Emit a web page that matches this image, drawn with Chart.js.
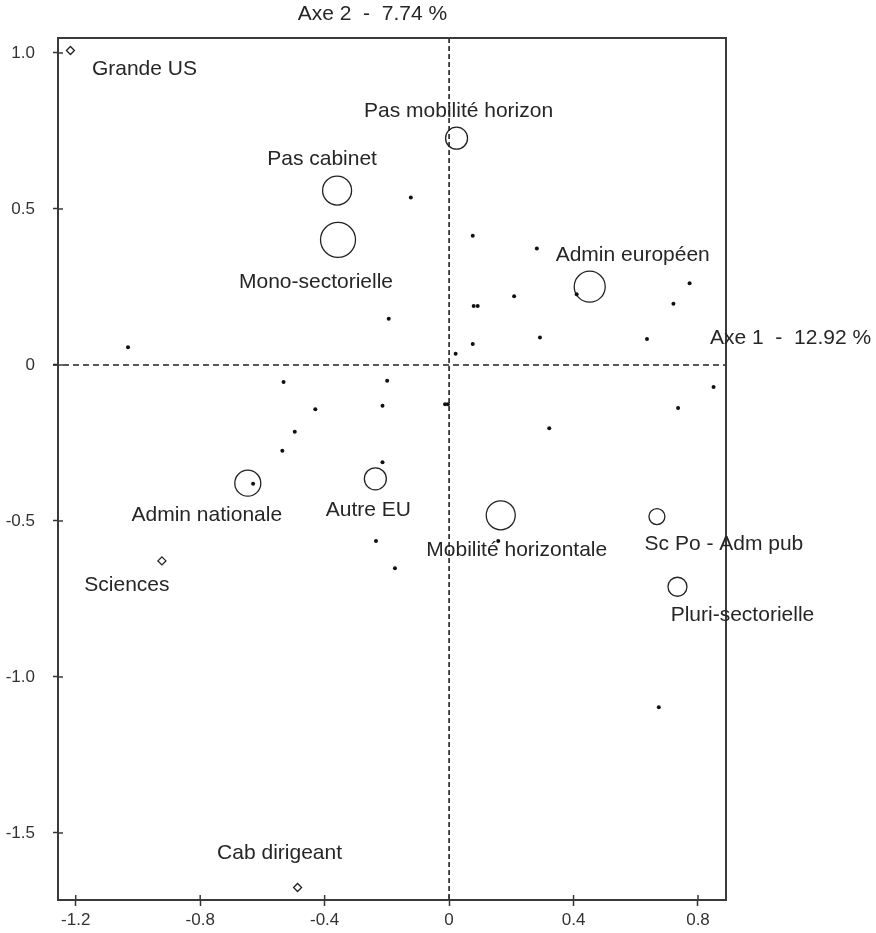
<!DOCTYPE html>
<html>
<head>
<meta charset="utf-8">
<script src="https://cdn.jsdelivr.net/npm/chart.js@4/dist/chart.umd.min.js"></script>
<style>
  html, body { margin: 0; padding: 0; background: #fff; }
  canvas { display: block; }
</style>
</head>
<body>
<canvas id="acm" width="876" height="933"></canvas>
<script>
// Active modalities (circles), weight shown by circle size
var circleNames = ['Pas mobilité horizon', 'Pas cabinet', 'Mono-sectorielle', 'Admin européen',
    'Admin nationale', 'Autre EU', 'Mobilité horizontale', 'Sc Po - Adm pub', 'Pluri-sectorielle'];
var circleX = [0.024, -0.360, -0.357, 0.452, -0.647, -0.237, 0.166, 0.668, 0.734];
var circleY = [0.727, 0.559, 0.401, 0.251, -0.379, -0.365, -0.482, -0.486, -0.711];
var circleRadius = [11, 14.5, 17.5, 15.5, 13, 11, 14.5, 8, 9.5];

// Rare modalities (diamonds)
var diamondNames = ['Grande US', 'Sciences', 'Cab dirigeant'];
var diamondX = [-1.217, -0.923, -0.487];
var diamondY = [1.008, -0.628, -1.675];

// Individuals (small dots)
var dotX = [-0.123, 0.076, 0.282, 0.209, 0.079, 0.092, -0.194, 0.292, 0.076, 0.021,
    -0.199, -0.430, -0.214, -0.013, -0.004, 0.322, -0.214, -1.032, -0.532, -0.496,
    -0.536, 0.773, 0.721, 0.636, 0.850, 0.736, -0.630, 0.158, -0.235, -0.174, 0.674, 0.410];
var dotY = [0.537, 0.414, 0.373, 0.220, 0.189, 0.189, 0.148, 0.088, 0.067, 0.036,
    -0.051, -0.142, -0.131, -0.126, -0.126, -0.203, -0.312, 0.057, -0.055, -0.214,
    -0.275, 0.262, 0.196, 0.083, -0.071, -0.138, -0.381, -0.564, -0.564, -0.652, -1.097, 0.227];

var xTickValues = [-1.2, -0.8, -0.4, 0, 0.4, 0.8];
var xTickLabels = ['-1.2', '-0.8', '-0.4', '0', '0.4', '0.8'];
var yTickValues = [1.0, 0.5, 0, -0.5, -1.0, -1.5];
var yTickLabels = ['1.0', '0.5', '0', '-0.5', '-1.0', '-1.5'];

var axis1Title = 'Axe 1  -  12.92 %';
var axis2Title = 'Axe 2  -  7.74 %';

// label placement relative to its point (pixels)
var circleLabelOffsets = [[2, -27], [-15, -31], [-22, 42], [43, -31], [-41, 32], [-7, 31], [16, 35], [67, 28], [65, 28]];
var diamondLabelOffsets = [[74, 19], [-35, 24], [-18, -34]];

var FONT = '"Liberation Sans", Arial, sans-serif';
var INK = '#262626';

function pts(xs, ys) {
    return xs.map(function (x, i) { return { x: x, y: ys[i] }; });
}

var decorations = {
    id: 'decorations',
    beforeDatasetsDraw: function (chart) {
        var ctx = chart.ctx, a = chart.chartArea;
        var xs = chart.scales.x, ys = chart.scales.y;
        var x0 = xs.getPixelForValue(0), y0 = ys.getPixelForValue(0);
        ctx.save();
        ctx.strokeStyle = '#222';
        ctx.lineWidth = 1.6;
        ctx.setLineDash([6, 4]);
        ctx.beginPath();
        ctx.moveTo(a.left - 5, y0);
        ctx.lineTo(a.right, y0);
        ctx.stroke();
        ctx.setLineDash([5, 3]);
        ctx.beginPath();
        ctx.moveTo(x0, a.top);
        ctx.lineTo(x0, a.bottom);
        ctx.stroke();
        ctx.restore();
    },
    afterDatasetsDraw: function (chart) {
        var ctx = chart.ctx, a = chart.chartArea;
        var xs = chart.scales.x, ys = chart.scales.y;
        ctx.save();
        // frame
        ctx.strokeStyle = '#3a3a3a';
        ctx.lineWidth = 2;
        ctx.strokeRect(a.left, a.top, a.right - a.left, a.bottom - a.top);
        // inner part of the tick marks
        ctx.lineWidth = 1.5;
        ctx.beginPath();
        xTickValues.forEach(function (v) {
            var p = xs.getPixelForValue(v);
            ctx.moveTo(p, a.bottom);
            ctx.lineTo(p, a.bottom - 5);
        });
        yTickValues.forEach(function (v) {
            var p = ys.getPixelForValue(v);
            ctx.moveTo(a.left, p);
            ctx.lineTo(a.left + 5, p);
        });
        ctx.stroke();

        // point labels
        ctx.fillStyle = INK;
        ctx.font = '21px ' + FONT;
        ctx.textAlign = 'center';
        ctx.textBaseline = 'middle';
        var cm = chart.getDatasetMeta(1).data;
        circleNames.forEach(function (n, i) {
            ctx.fillText(n, cm[i].x + circleLabelOffsets[i][0], cm[i].y + circleLabelOffsets[i][1]);
        });
        var dm = chart.getDatasetMeta(2).data;
        diamondNames.forEach(function (n, i) {
            ctx.fillText(n, dm[i].x + diamondLabelOffsets[i][0], dm[i].y + diamondLabelOffsets[i][1]);
        });

        // axis titles
        var x0 = xs.getPixelForValue(0), y0 = ys.getPixelForValue(0);
        ctx.textAlign = 'right';
        ctx.fillText(axis2Title, x0 - 2, a.top - 24);
        ctx.textAlign = 'left';
        ctx.fillText(axis1Title, a.right - 16, y0 - 27);
        ctx.restore();
    }
};

new Chart(document.getElementById('acm'), {
    type: 'scatter',
    data: {
        datasets: [{
            label: 'Individus',
            data: pts(dotX, dotY),
            pointStyle: 'circle',
            pointRadius: 2,
            pointBackgroundColor: '#111',
            pointBorderWidth: 0
        }, {
            label: 'Modalités',
            data: pts(circleX, circleY),
            pointStyle: 'circle',
            pointRadius: circleRadius,
            pointBackgroundColor: 'rgba(255,255,255,0)',
            pointBorderColor: '#222',
            pointBorderWidth: 1.3
        }, {
            label: 'Modalités rares',
            data: pts(diamondX, diamondY),
            pointStyle: 'rectRot',
            pointRadius: 4,
            pointBackgroundColor: '#fff',
            pointBorderColor: '#222',
            pointBorderWidth: 1.3
        }]
    },
    options: {
        responsive: false,
        animation: false,
        layout: { padding: { left: 0, right: 150, top: 38, bottom: 0 } },
        plugins: {
            legend: { display: false },
            tooltip: { enabled: false }
        },
        scales: {
            x: {
                type: 'linear',
                min: -1.257,
                max: 0.89,
                afterBuildTicks: function (scale) {
                    scale.ticks = xTickValues.map(function (v) { return { value: v }; });
                },
                afterFit: function (scale) { scale.height = 33; },
                grid: { drawOnChartArea: false, drawTicks: true, tickLength: 6, tickWidth: 1.5, tickColor: '#333' },
                border: { display: false },
                ticks: {
                    padding: 4,
                    maxRotation: 0,
                    color: '#333',
                    font: { family: FONT, size: 17 },
                    callback: function (v, i) { return xTickLabels[i]; }
                }
            },
            y: {
                type: 'linear',
                min: -1.715,
                max: 1.048,
                afterBuildTicks: function (scale) {
                    scale.ticks = yTickValues.map(function (v) { return { value: v }; });
                },
                afterFit: function (scale) { scale.width = 58; },
                grid: { drawOnChartArea: false, drawTicks: true, tickLength: 5, tickWidth: 1.5, tickColor: '#333' },
                border: { display: false },
                ticks: {
                    padding: 18,
                    color: '#333',
                    font: { family: FONT, size: 17 },
                    callback: function (v, i) { return yTickLabels[i]; }
                }
            }
        }
    },
    plugins: [decorations]
});
</script>
</body>
</html>
